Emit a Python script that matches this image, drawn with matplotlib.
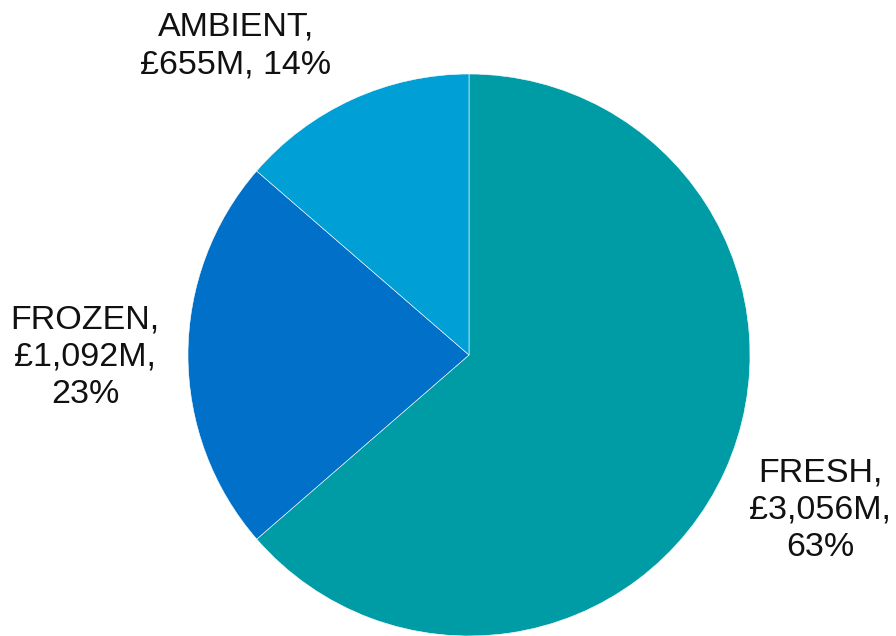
import matplotlib
matplotlib.use("Agg")
import matplotlib.pyplot as plt

categories = ["FRESH", "FROZEN", "AMBIENT"]
values_m = [3056, 1092, 655]
percents = [63, 23, 14]
colors = ["#009CA6", "#0070C8", "#00A0D6"]

W, H = 896, 636
fig = plt.figure(figsize=(W / 100, H / 100), dpi=100)
ax = fig.add_axes([0, 0, 1, 1])

cx, cy, r = 469, H - 355, 281
ax.pie(values_m, colors=colors, startangle=90, counterclock=False,
       center=(cx, cy), radius=r, frame=True,
       wedgeprops=dict(edgecolor="white", linewidth=0.4))
ax.set_xlim(0, W)
ax.set_ylim(0, H)
ax.set_aspect("equal")
ax.axis("off")

labels = {
    "FRESH": f"FRESH,\n£{values_m[0]:,}M,\n{percents[0]}%",
    "FROZEN": f"FROZEN,\n£{values_m[1]:,}M,\n{percents[1]}%",
    "AMBIENT": f"AMBIENT,\n£{values_m[2]}M, {percents[2]}%",
}
positions = {"FRESH": (820, H - 510), "FROZEN": (85, H - 357), "AMBIENT": (236, H - 46)}
for c in categories:
    x, y = positions[c]
    ax.text(x, y, labels[c], ha="center", va="center", fontsize=24.5,
            family="Liberation Sans", color="#111111", linespacing=1.27)

fig.savefig("out.png", dpi=100)
